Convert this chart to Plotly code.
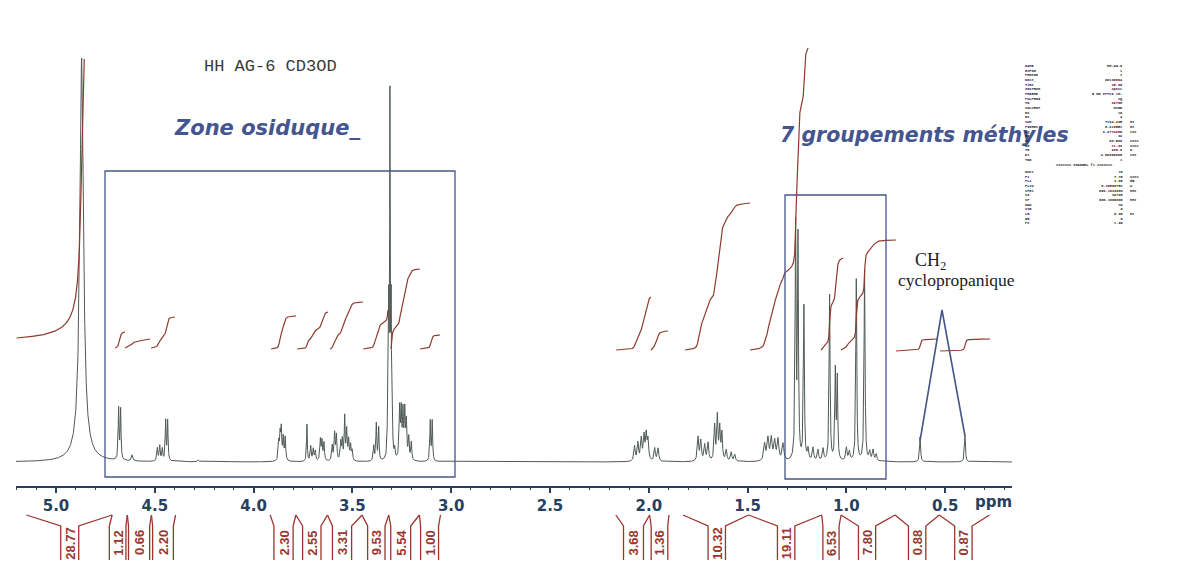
import numpy as np
import plotly.graph_objects as go

# ---------------- data ----------------
# peak list: chemical shift (ppm), height (px above baseline), half width (ppm)
peak_ppm = [4.870, 4.870,
            4.683, 4.673, 4.615,
            4.487, 4.475, 4.462, 4.445, 4.435, 4.280,
            3.873, 3.866, 3.860, 3.850, 3.840,
            3.730, 3.711, 3.698, 3.688,
            3.662, 3.654, 3.644,
            3.602, 3.590, 3.581,
            3.559, 3.551, 3.539, 3.529, 3.519, 3.509, 3.501,
            3.392, 3.379, 3.367,
            3.322, 3.316, 3.310, 3.304, 3.298, 3.286,
            3.261, 3.253, 3.244, 3.235, 3.227, 3.215, 3.202,
            3.106, 3.096,
            2.072, 2.055, 2.038, 2.024, 2.013, 2.004, 1.970, 1.953,
            1.751, 1.737, 1.717, 1.700, 1.667, 1.653, 1.641, 1.630, 1.608, 1.583, 1.565,
            1.414, 1.397, 1.380, 1.363, 1.346, 1.321,
            1.257, 1.245, 1.215,
            1.194, 1.169, 1.144, 1.118,
            1.085, 1.056, 1.046, 1.000, 0.985,
            0.950, 0.908, 0.882, 0.865, 0.849,
            0.627, 0.400]
peak_height = [398, 6,
               51, 50, 6,
               13, 15, 12, 40, 40, 2,
               18, 24, 30, 22, 23,
               37, 15, 12, 10,
               21, 19, 18,
               15, 27, 25,
               18, 20, 43, 30, 20, 15, 10,
               15, 37, 33,
               40, 140, 350, 140, 40, 10,
               50, 46, 45, 46, 36, 22, 18,
               40, 40,
               15, 18, 22, 24, 25, 20, 13, 13,
               24, 20, 16, 18, 35, 44, 32, 27, 11, 9, 7,
               17, 22, 22, 19, 21, 17,
               232, 219, 154,
               11, 13, 11, 12,
               166, 89, 81, 13, 9,
               182, 191, 9, 11, 7,
               25, 27]
peak_hwhm = [0.011, 0.05,
             0.0025, 0.0025, 0.004,
             0.003, 0.003, 0.003, 0.0025, 0.0025, 0.004,
             0.003, 0.003, 0.003, 0.003, 0.003,
             0.0022, 0.003, 0.003, 0.003,
             0.003, 0.003, 0.003,
             0.003, 0.003, 0.003,
             0.003, 0.003, 0.0025, 0.003, 0.003, 0.003, 0.003,
             0.003, 0.0025, 0.0025,
             0.002, 0.0018, 0.0018, 0.0018, 0.002, 0.003,
             0.003, 0.003, 0.003, 0.003, 0.003, 0.003, 0.003,
             0.0025, 0.0025,
             0.004, 0.004, 0.004, 0.004, 0.004, 0.004, 0.004, 0.004,
             0.004, 0.004, 0.004, 0.004, 0.0035, 0.0035, 0.0035, 0.0035, 0.004, 0.004, 0.004,
             0.005, 0.005, 0.005, 0.005, 0.005, 0.005,
             0.0028, 0.0028, 0.0028,
             0.004, 0.004, 0.004, 0.004,
             0.0028, 0.0028, 0.0028, 0.004, 0.004,
             0.0028, 0.0028, 0.004, 0.004, 0.004,
             0.003, 0.003]

# integral curves: start ppm, end ppm, base level, rise (px above spectrum baseline)
int_start = [5.200, 4.701, 4.651, 4.519, 3.912, 3.780, 3.613, 3.446, 3.305, 3.158,
             2.166, 1.989, 1.817, 1.488, 1.129, 1.027, 0.749, 0.526]
int_end = [4.857, 4.651, 4.524, 4.398, 3.785, 3.623, 3.446, 3.320, 3.158, 3.057,
           1.989, 1.903, 1.488, 1.194, 1.017, 0.749, 0.536, 0.273]
int_base = [124, 114, 114, 114, 113, 113, 113, 113, 113, 113,
            112, 112, 112, 112, 112, 112, 111, 111]
int_rise = [279, 16, 9, 31, 33, 37, 47, 39, 80, 14,
            53, 19, 147, 302, 92, 110, 12, 12]

# integration values and their brackets (ppm)
br_label = ["28.77", "1.12", "0.66", "2.20", "2.30", "2.55", "3.31", "9.53", "5.54", "1.00",
            "3.68", "1.36", "10.32", "19.11", "6.53", "7.80", "0.88", "0.87"]
br_top_l = [5.150, 4.716, 4.639, 4.517, 3.916, 3.786, 3.626, 3.451, 3.316, 3.161,
            2.167, 1.996, 1.827, 1.495, 1.125, 1.027, 0.754, 0.530]
br_slot_l = [4.976, 4.730, 4.633, 4.511, 3.897, 3.752, 3.601, 3.423, 3.306, 3.155,
             2.128, 1.988, 1.700, 1.349, 1.119, 0.939, 0.686, 0.452]
br_slot_r = [4.885, 4.646, 4.526, 4.406, 3.800, 3.659, 3.504, 3.335, 3.205, 3.064,
             2.027, 1.904, 1.612, 1.261, 1.037, 0.852, 0.598, 0.364]
br_top_r = [4.716, 4.639, 4.517, 4.395, 3.786, 3.626, 3.451, 3.316, 3.161, 3.054,
            1.996, 1.898, 1.495, 1.125, 1.027, 0.754, 0.530, 0.276]

tick_vals = [5.0, 4.5, 4.0, 3.5, 3.0, 2.5, 2.0, 1.5, 1.0, 0.5]
tick_text = ["5.0", "4.5", "4.0", "3.5", "3.0", "2.5", "2.0", "1.5", "1.0", "0.5"]

# acquisition parameters
par_names1 = ["NAME", "EXPNO", "PROCNO", "Date_", "Time", "INSTRUM", "PROBHD", "PULPROG", "TD",
              "SOLVENT", "NS", "DS", "SWH", "FIDRES", "AQ", "RG", "DW", "DE", "TE", "D1", "TD0"]
par_vals1 = ["HH-AG-6", "1", "1", "20130604", "15.08", "spect", "5 mm CPTCI 1H-", "zg", "32768",
             "MeOD", "16", "4", "7194.245", "0.219551", "2.2774260", "32", "69.500", "11.92",
             "298.0", "2.00000000", "1"]
par_units1 = ["", "", "", "", "", "", "", "", "", "", "", "", "Hz", "Hz", "sec", "", "usec", "usec",
              "K", "sec", ""]
par_names2 = ["NUC1", "P1", "PL1", "PL1W", "SFO1", "SI", "SF", "WDW", "SSB", "LB", "GB", "PC"]
par_vals2 = ["1H", "7.70", "3.00", "8.30880751", "600.1633009", "32768", "600.1600000", "no", "0",
             "0.00", "0", "1.00"]
par_units2 = ["", "usec", "dB", "W", "MHz", "", "MHz", "", "", "Hz", "", ""]

# ---------------- layout helpers (pixel -> axis units) ----------------
PX0, PPM0, PXPERPPM = 48.0, 5.0, 197.6
BASE_PX = 454.0
W, H = 1204, 578
ML, MR = 8, 200
AXIS_PX = 479


def X(px):
    return PPM0 - (px - PX0) / PXPERPPM


def Y(py):
    return BASE_PX - py


def PXP(px):  # pixel -> paper x
    return (px - ML) / (W - ML - MR)


def PYP(py):  # pixel -> paper y
    return (H - py) / H


SPEC_C = "#4f5a55"
INT_C = "#8e3b2c"
BR_C = "#9c352b"
BOX_C = "#46558a"
TXT_BLUE = "#44558f"
AX_C = "#27405f"

ppm = np.arange(0.16, 5.2030, 0.0005)
spec = np.zeros_like(ppm)
for p, h, w in zip(peak_ppm, peak_height, peak_hwhm):
    spec += h * w ** 2 / ((ppm - p) ** 2 + w ** 2)

fig = go.Figure()
fig.add_trace(go.Scatter(x=ppm, y=spec, mode="lines", line=dict(color=SPEC_C, width=1),
                         hoverinfo="skip", showlegend=False))

# integrals
ix, iy = [], []
for s, e, b, r in zip(int_start, int_end, int_base, int_rise):
    m = (ppm <= s) & (ppm >= e)
    xs = ppm[m][::-1]
    ys = spec[m][::-1]
    c = np.concatenate([[0.0], np.cumsum((ys[1:] + ys[:-1]) / 2)])
    c = c / c[-1]
    ix += list(xs) + [None]
    iy += list(b + r * c) + [None]
fig.add_trace(go.Scatter(x=ix, y=iy, mode="lines", line=dict(color=INT_C, width=1.2),
                         hoverinfo="skip", showlegend=False))

# brackets under the axis
YT, YM, YB, YL = Y(507), Y(518), Y(552), Y(535)
bx, by = [], []
for tl, sl, sr, tr in zip(br_top_l, br_slot_l, br_slot_r, br_top_r):
    bx += [tl, sl, sl, None, tr, sr, sr, None]
    by += [YT, YM, YB, None, YT, YM, YB, None]
fig.add_trace(go.Scatter(x=bx, y=by, mode="lines", line=dict(color=BR_C, width=1.3),
                         hoverinfo="skip", showlegend=False))

annotations = []
for lab, sl, sr in zip(br_label, br_slot_l, br_slot_r):
    annotations.append(dict(x=(sl + sr) / 2, y=YL, xref="x", yref="y", text="<b>" + lab + "</b>",
                            textangle=-90, showarrow=False,
                            font=dict(family="Liberation Sans Narrow, Liberation Sans, Arial",
                                      size=13, color=BR_C)))

annotations.append(dict(x=X(985), y=Y(494), xref="x", yref="y", text="ppm", showarrow=False,
                        font=dict(family="DejaVu Sans", size=15, color=AX_C, weight="bold")))
annotations.append(dict(x=X(262), y=Y(58), xref="x", yref="y", text="HH AG-6 CD3OD",
                        showarrow=False,
                        font=dict(family="Liberation Mono, Courier New", size=17, color="#3a3a3a")))
annotations.append(dict(x=X(164), y=Y(120), xref="x", yref="y", text="<b><i>Zone osiduque_</i></b>",
                        showarrow=False, xanchor="left",
                        font=dict(family="DejaVu Sans", size=21, color=TXT_BLUE)))
annotations.append(dict(x=X(770), y=Y(127), xref="x", yref="y",
                        text="<b><i>7 groupements méthyles</i></b>", showarrow=False, xanchor="left",
                        font=dict(family="DejaVu Sans", size=20.5, color=TXT_BLUE)))
annotations.append(dict(x=X(905), y=Y(253), xref="x", yref="y", text="CH<sub>2</sub>",
                        showarrow=False, xanchor="left",
                        font=dict(family="Liberation Serif, Times New Roman", size=18, color="#222222")))
annotations.append(dict(x=X(888), y=Y(272), xref="x", yref="y", text="cyclopropanique",
                        showarrow=False, xanchor="left",
                        font=dict(family="Liberation Serif, Times New Roman", size=17.5,
                                  color="#222222")))

# acquisition parameter block (outside the axis range -> paper coordinates)
PF = dict(family="Liberation Mono, DejaVu Sans Mono", size=3.6, color="#222222", weight="bold")


def par_block(py_top, names, vals, units):
    nb = "<br>".join(names)
    vb = "<br>".join(vals)
    ub = "<br>".join(u if u else "\u00a0" for u in units)
    annotations.append(dict(x=PXP(1015), y=PYP(py_top), xref="paper", yref="paper", text=nb,
                            xanchor="left", yanchor="top", align="left", showarrow=False, font=PF))
    annotations.append(dict(x=PXP(1117), y=PYP(py_top), xref="paper", yref="paper", text=vb,
                            xanchor="right", yanchor="top", align="right", showarrow=False, font=PF))
    annotations.append(dict(x=PXP(1120), y=PYP(py_top), xref="paper", yref="paper", text=ub,
                            xanchor="left", yanchor="top", align="left", showarrow=False, font=PF))


par_block(54, par_names1, par_vals1, par_units1)
annotations.append(dict(x=PXP(1076), y=PYP(157), xref="paper", yref="paper", xanchor="center",
                        yanchor="middle", text="======= CHANNEL f1 =======", showarrow=False,
                        font=PF))
par_block(160, par_names2, par_vals2, par_units2)

shapes = [
    dict(type="rect", xref="x", yref="y", x0=X(97), x1=X(447), y0=Y(469), y1=Y(163),
         line=dict(color=BOX_C, width=1.3)),
    dict(type="rect", xref="x", yref="y", x0=X(777), x1=X(878), y0=Y(471), y1=Y(187),
         line=dict(color=BOX_C, width=1.3)),
    dict(type="path", xref="x", yref="y",
         path=f"M {X(912)} {Y(433)} L {X(934)} {Y(302)} L {X(957)} {Y(428)}",
         line=dict(color=BOX_C, width=1.6)),
]

fig.update_layout(
    width=W, height=H, margin=dict(l=ML, r=MR, t=0, b=0),
    paper_bgcolor="white", plot_bgcolor="white",
    showlegend=False, annotations=annotations, shapes=shapes,
    xaxis=dict(range=[X(ML), X(W - MR)], anchor="free", position=(H - AXIS_PX) / H,
               showline=True, linecolor=AX_C, linewidth=1.5, showgrid=False, zeroline=False,
               tickmode="array", tickvals=tick_vals, ticktext=tick_text,
               ticks="outside", ticklen=5, tickwidth=1.5, tickcolor=AX_C,
               minor=dict(tickmode="linear", tick0=0, dtick=0.1, ticks="outside", ticklen=2.5,
                          tickwidth=1.2, tickcolor=AX_C),
               tickfont=dict(family="DejaVu Sans", size=15, color=AX_C, weight="bold"),
               automargin=False, fixedrange=True),
    yaxis=dict(range=[Y(H), Y(0)], visible=False, showgrid=False, zeroline=False,
               automargin=False, fixedrange=True),
)

fig.write_html("out.html")
